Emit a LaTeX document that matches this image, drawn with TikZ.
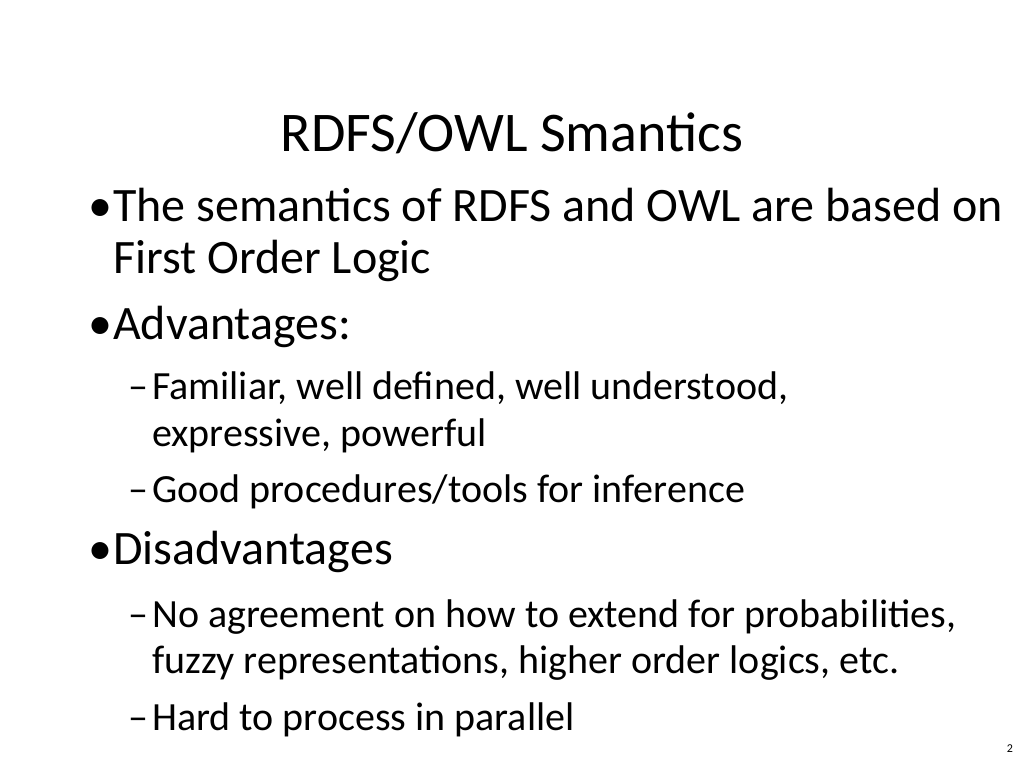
\documentclass[tikz,border=0pt]{standalone}
\usepackage{fontspec}
\setmainfont{Carlito}
\begin{document}
\begin{tikzpicture}[x=1pt,y=1pt,
  t/.style={anchor=base west,inner sep=0pt,font=\fontsize{48}{56}\selectfont},
  s/.style={anchor=base west,inner sep=0pt,font=\fontsize{40}{48}\selectfont}]
\useasboundingbox (0,0) rectangle (1024,768);
\fill[white] (0,0) rectangle (1024,768);
\node[anchor=base,inner sep=0pt,font=\fontsize{56}{64}\selectfont] (title) at (512,768-152) {RDFS/OWL Smantics};
\node[t] (b1) at (88,768-222) {•};
\node[t] (l1) at (113,768-222) {The semantics of RDFS and OWL are based on};
\node[t] (l1b) at (113,768-274) {First Order Logic};
\node[t] (b2) at (88,768-340) {•};
\node[t] (l2) at (113,768-340) {Advantages:};
\node[s] (d1) at (128,768-400) {–};
\node[s] (l3) at (152,768-400) {Familiar, well defined, well understood,};
\node[s] (l3b) at (152,768-447) {expressive, powerful};
\node[s] (d2) at (128,768-503) {–};
\node[s] (l4) at (152,768-503) {Good procedures/tools for inference};
\node[t] (b3) at (88,768-565) {•};
\node[t] (l5) at (113,768-565) {Disadvantages};
\node[s] (d3) at (128,768-627) {–};
\node[s] (l6) at (152,768-627) {No agreement on how to extend for probabilities,};
\node[s] (l6b) at (152,768-673) {fuzzy representations, higher order logics, etc.};
\node[s] (d4) at (128,768-730) {–};
\node[s] (l7) at (152,768-730) {Hard to process in parallel};
\node[anchor=base,inner sep=0pt,font=\fontsize{12}{14}\selectfont] (pg) at (1010,768-752) {2};
\end{tikzpicture}
\end{document}
